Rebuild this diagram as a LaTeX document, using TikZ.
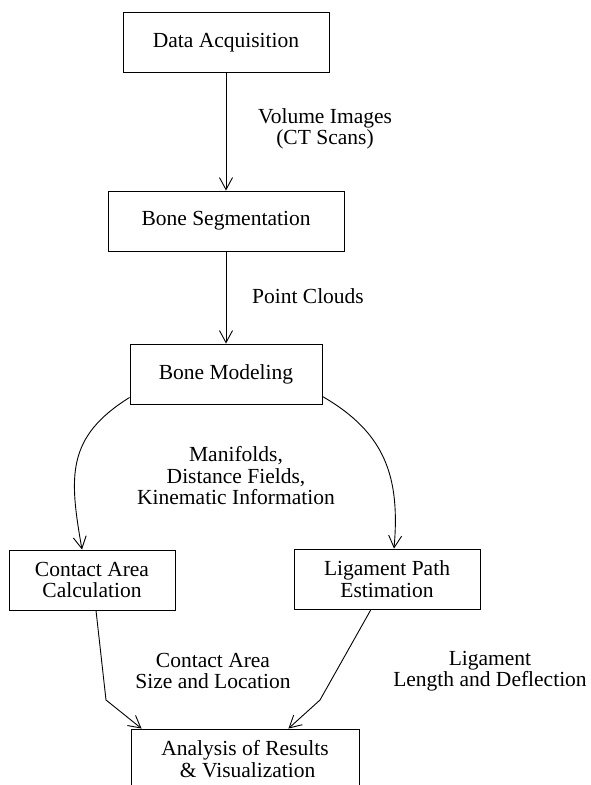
\documentclass[tikz,border=0pt]{standalone}
\usepackage{fontspec}
\setmainfont{Liberation Serif}
\usetikzlibrary{arrows.meta}
\tikzset{
  box/.style={draw, align=center, minimum height=60pt, inner sep=0pt},
  flow/.style={-{Straight Barb[length=12pt, width=13pt]}},
}
\begin{document}
\begin{tikzpicture}[x=1pt, y=1pt, line width=0.9pt,
    font=\fontsize{21.5}{21.5}\selectfont]
    \useasboundingbox (0,0) rectangle (591,-785);
    \node (da) [box, minimum width=206pt] at (226,-42.5) {Data Acquisition};
    \node (bs) [box, minimum width=236pt] at (226,-221) {Bone Segmentation};
    \node (bm) [box, minimum width=192pt] at (226,-374) {Bone Modeling};
    \node (ca) [box, minimum width=166pt] at (92,-580) {Contact Area\\Calculation};
    \node (lp) [box, minimum width=186pt] at (387,-579) {Ligament Path\\Estimation};
    \node (an) [box, minimum width=228pt] at (245,-759) {Analysis of Results\\\ \& Visualization};
    \draw[flow] (da) -- (bs); \draw[flow] (bs) -- (bm);
    \draw[flow] ([yshift=7pt]bm.south west) to [out=212, in=100, looseness=1.2] ([xshift=-10pt]ca.north);
    \draw[flow] ([yshift=8pt]bm.south east) to [out=-30, in=85, looseness=1.1] ([xshift=7pt]lp.north);
    \coordinate (kl) at (106,-700);
    \coordinate (kr) at (320,-700);
    \draw[flow] ([xshift=4pt]ca.south) -- (kl) -- ([xshift=11pt]an.north west);
    \draw[flow] ([xshift=-16pt]lp.south) -- (kr) -- ([xshift=-71pt]an.north east);
    \path node (vol) at (325,-129) [align=center] {Volume Images\\(CT Scans)};
    \path node (pc) at (308,-296) {Point Clouds};
    \path node (mf) at (236,-476) [align=center] {Manifolds,\\Distance Fields,\\Kinematic Information};
    \path node (cs) at (213,-671) [align=center] {Contact Area\\Size and Location};
    \path node (ld) at (490,-671) [align=center] {Ligament\\Length and Deflection};
  \end{tikzpicture}
\end{document}
